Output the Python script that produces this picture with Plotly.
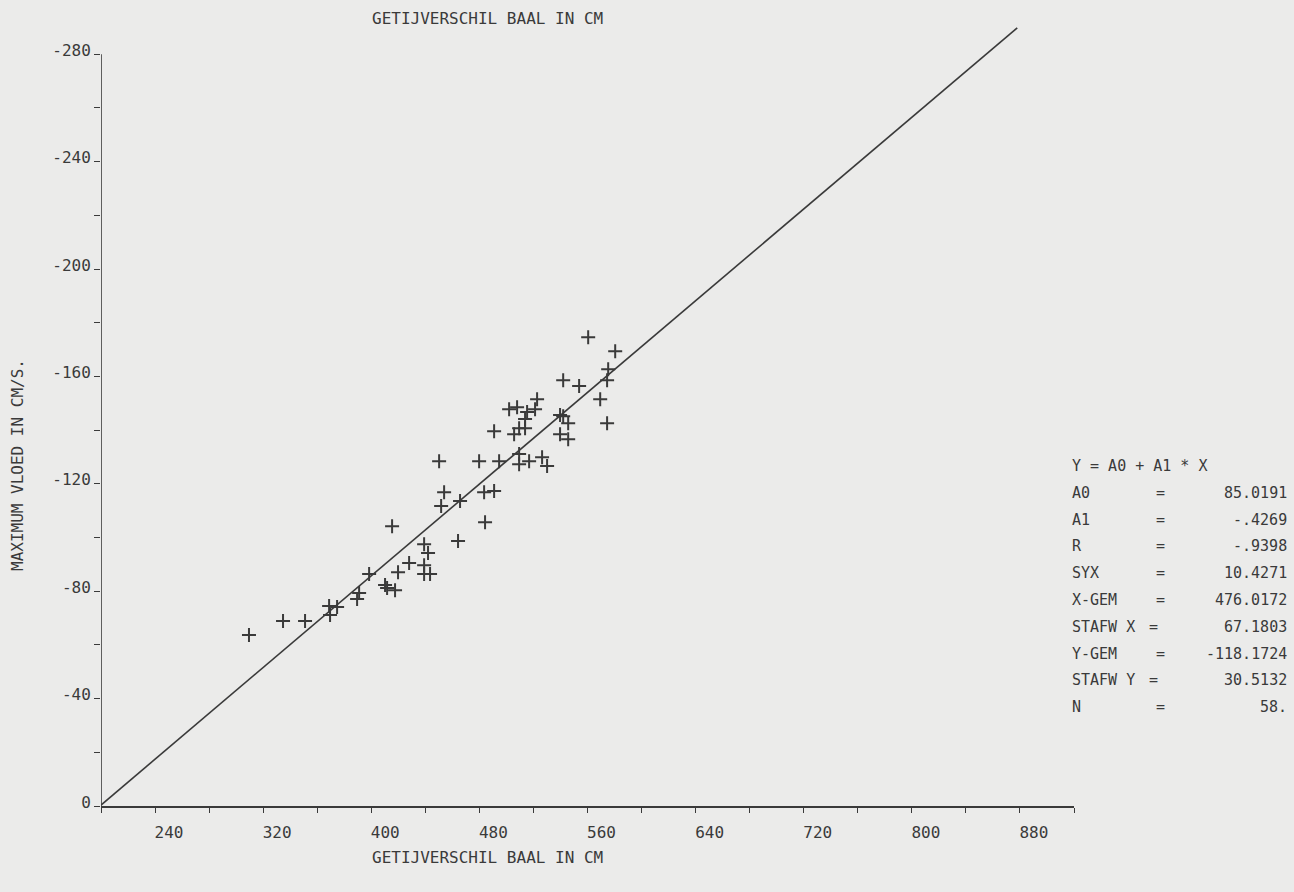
import plotly.graph_objects as go

# ---- data ----
x_getij = [309.5, 334.7, 351.0, 368.8, 369.5, 374.7, 389.5, 391.0, 398.4, 410.2,
           411.7, 417.6, 419.8, 415.4, 428.0, 439.1, 439.1, 443.5, 439.1, 442.0,
           450.2, 451.7, 453.9, 464.2, 465.7, 479.8, 483.5, 490.9, 484.2, 490.9,
           494.6, 502.0, 507.9, 505.7, 509.4, 513.8, 513.8, 515.3, 521.2, 522.7,
           509.4, 509.4, 516.8, 526.4, 530.1, 539.7, 542.0, 545.7, 539.7, 545.7,
           542.0, 553.8, 560.5, 580.5, 575.3, 574.5, 569.4, 574.5]
y_vloed = [-63.7, -68.9, -68.9, -74.5, -71.1, -74.1, -77.1, -79.3, -86.4, -82.3,
           -81.2, -80.4, -87.1, -104.2, -90.5, -89.7, -86.4, -86.4, -97.5, -94.2,
           -128.4, -111.7, -116.9, -98.7, -113.6, -128.4, -116.9, -117.3, -105.7, -139.6,
           -128.4, -147.8, -148.5, -138.5, -140.7, -140.7, -144.1, -146.7, -147.8, -151.5,
           -131.1, -127.3, -128.4, -129.9, -126.6, -145.6, -145.2, -142.6, -138.5, -136.6,
           -158.6, -156.4, -174.6, -169.4, -162.7, -158.6, -151.5, -142.6]

A0 = 85.0191
A1 = -0.4269
line_x = [200, 878]
line_y = [A0 + A1 * v for v in line_x]

x_tick_vals = [240, 320, 400, 480, 560, 640, 720, 800, 880]
x_minor_vals = [200, 280, 360, 440, 520, 600, 680, 760, 840, 920]
y_tick_vals = [0, -40, -80, -120, -160, -200, -240, -280]
y_minor_vals = [-20, -60, -100, -140, -180, -220, -260]

formula_text = "Y = A0 + A1 * X"
stat_labels = ["A0", "A1", "R", "SYX", "X-GEM", "STAFW X", "Y-GEM", "STAFW Y", "N"]
stat_values = ["85.0191", "-.4269", "-.9398", "10.4271", "476.0172", "67.1803",
               "-118.1724", "30.5132", "58."]

x_title = "GETIJVERSCHIL BAAL IN CM"
y_title = "MAXIMUM VLOED IN CM/S."

# ---- styling ----
INK = "#3a3a3a"
BG = "#ebebea"
FONT = "DejaVu Sans Mono"

W, H = 1294, 892
ML, MR, MT, MB = 101, 220, 22, 86
pw = W - ML - MR
ph = H - MT - MB

def px_x(p):
    return (p - ML) / pw

def px_y(p):
    return (H - MB - p) / ph

fig = go.Figure()
fig.add_trace(go.Scatter(x=line_x, y=line_y, mode="lines",
                         line=dict(color=INK, width=1.6), hoverinfo="skip",
                         showlegend=False))
fig.add_trace(go.Scatter(x=x_getij, y=y_vloed, mode="markers",
                         marker=dict(symbol="cross-thin", size=10,
                                     line=dict(color=INK, width=2)),
                         showlegend=False))

# y axis line (only up to -280)
fig.add_shape(type="line", xref="x", yref="y", x0=200, x1=200,
              y0=y_tick_vals[0], y1=y_tick_vals[-1],
              line=dict(color=INK, width=1.6))

annos = []
annos.append(dict(text=x_title, xref="paper", yref="paper", x=px_x(487), y=px_y(18),
                  showarrow=False, xanchor="center", yanchor="middle",
                  font=dict(family=FONT, size=16, color=INK)))
annos.append(dict(text=x_title, xref="paper", yref="paper", x=px_x(487), y=px_y(857),
                  showarrow=False, xanchor="center", yanchor="middle",
                  font=dict(family=FONT, size=16, color=INK)))
annos.append(dict(text=y_title, xref="paper", yref="paper", x=px_x(17), y=px_y(465),
                  showarrow=False, xanchor="center", yanchor="middle", textangle=-90,
                  font=dict(family=FONT, size=16, color=INK)))

row0 = 466
step = 26.8
annos.append(dict(text=formula_text, xref="paper", yref="paper", x=px_x(1070), y=px_y(row0),
                  showarrow=False, xanchor="left", yanchor="middle",
                  font=dict(family=FONT, size=15, color=INK)))
for i, (lab, val) in enumerate(zip(stat_labels, stat_values)):
    yy = px_y(row0 + step * (i + 1))
    annos.append(dict(text=lab, xref="paper", yref="paper", x=px_x(1070), y=yy,
                      showarrow=False, xanchor="left", yanchor="middle",
                      font=dict(family=FONT, size=15, color=INK)))
    eq_x = 1153 if lab.startswith("STAFW") else 1160
    annos.append(dict(text="=", xref="paper", yref="paper", x=px_x(eq_x), y=yy,
                      showarrow=False, xanchor="center", yanchor="middle",
                      font=dict(family=FONT, size=15, color=INK)))
    annos.append(dict(text=val, xref="paper", yref="paper", x=px_x(1289), y=yy,
                      showarrow=False, xanchor="right", yanchor="middle",
                      font=dict(family=FONT, size=15, color=INK)))

fig.update_layout(
    width=W, height=H,
    margin=dict(l=ML, r=MR, t=MT, b=MB, pad=0),
    paper_bgcolor=BG, plot_bgcolor=BG,
    annotations=annos,
    xaxis=dict(range=[200, 920], showgrid=False, zeroline=False,
               showline=True, linecolor=INK, linewidth=1.6,
               tickmode="array", tickvals=x_tick_vals,
               ticktext=[str(v) for v in x_tick_vals],
               ticks="outside", ticklen=5, tickwidth=1.4, tickcolor=INK,
               ticklabelshift=14, ticklabelstandoff=6,
               tickfont=dict(family=FONT, size=16, color=INK),
               minor=dict(tickmode="array", tickvals=x_minor_vals, ticks="outside",
                          ticklen=5, tickwidth=1.4, tickcolor=INK, showgrid=False)),
    yaxis=dict(range=[0, -292], showgrid=False, zeroline=False, showline=False,
               tickmode="array", tickvals=y_tick_vals,
               ticktext=[str(v) for v in y_tick_vals],
               ticks="outside", ticklen=6, tickwidth=1.4, tickcolor=INK,
               ticklabelshift=4, ticklabelstandoff=0,
               tickfont=dict(family=FONT, size=16, color=INK),
               minor=dict(tickmode="array", tickvals=y_minor_vals, ticks="outside",
                          ticklen=6, tickwidth=1.4, tickcolor=INK, showgrid=False)),
)

fig.write_html("out.html",
               config={"displayModeBar": False},
               post_script="document.body.style.margin='0';"
                           "document.body.style.overflow='hidden';"
                           f"document.body.style.background='{BG}';")
